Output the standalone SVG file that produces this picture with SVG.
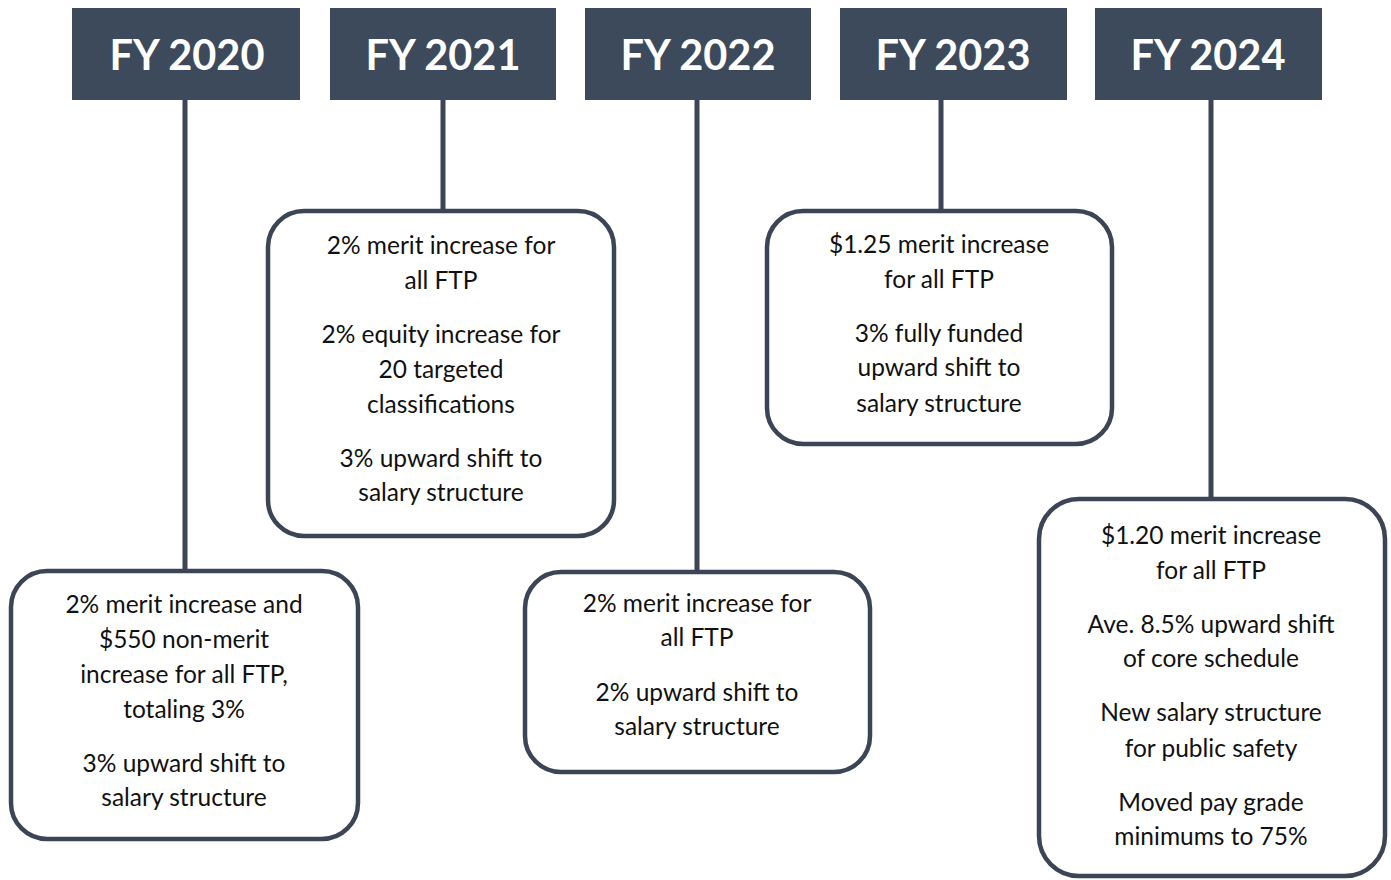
<svg xmlns="http://www.w3.org/2000/svg" width="1391" height="880" viewBox="0 0 1391 880">
<style>
.hdr{fill:#3d4a5c}
.hdrt{font-family:Lato,"Open Sans",sans-serif;font-weight:bold;font-size:41.5px;fill:#ffffff;text-anchor:middle}
.box{fill:#ffffff;stroke:#3b4556;stroke-width:4.5}
.t{font-family:Lato,"Open Sans",sans-serif;font-size:24.5px;fill:#111111;text-anchor:middle}
.ln{stroke:#3b4556;stroke-width:5;fill:none}
</style>
<rect width="1391" height="880" fill="#ffffff"/>
<g id="connectors">
<line class="ln" x1="185" y1="100" x2="185" y2="571"/>
<line class="ln" x1="443" y1="100" x2="443" y2="211"/>
<line class="ln" x1="697" y1="100" x2="697" y2="572"/>
<line class="ln" x1="941" y1="100" x2="941" y2="211"/>
<line class="ln" x1="1211" y1="100" x2="1211" y2="499"/>
</g>
<g id="h2020"><rect class="hdr" x="72" y="8" width="228" height="92"/><text class="hdrt" x="187" y="70">FY 2020</text></g>
<g id="h2021"><rect class="hdr" x="330" y="8" width="226" height="92"/><text class="hdrt" x="443" y="70">FY 2021</text></g>
<g id="h2022"><rect class="hdr" x="585" y="8" width="226" height="92"/><text class="hdrt" x="698" y="70">FY 2022</text></g>
<g id="h2023"><rect class="hdr" x="840" y="8" width="227" height="92"/><text class="hdrt" x="953" y="70">FY 2023</text></g>
<g id="h2024"><rect class="hdr" x="1095" y="8" width="227" height="92"/><text class="hdrt" x="1208" y="70">FY 2024</text></g>
<g id="b2020"><rect class="box" x="11" y="571" width="347" height="268" rx="36"/>
<text class="t" x="184"><tspan x="184" y="613">2% merit increase and</tspan><tspan x="184" y="648">$550 non-merit</tspan><tspan x="184" y="683">increase for all FTP,</tspan><tspan x="184" y="718">totaling 3%</tspan><tspan x="184" y="772">3% upward shift to</tspan><tspan x="184" y="806">salary structure</tspan></text></g>
<g id="b2021"><rect class="box" x="268" y="211" width="346" height="325" rx="36"/>
<text class="t" x="441"><tspan x="441" y="254">2% merit increase for</tspan><tspan x="441" y="289">all FTP</tspan><tspan x="441" y="343">2% equity increase for</tspan><tspan x="441" y="378">20 targeted</tspan><tspan x="441" y="413">classifications</tspan><tspan x="441" y="467">3% upward shift to</tspan><tspan x="441" y="501">salary structure</tspan></text></g>
<g id="b2022"><rect class="box" x="525" y="572" width="345" height="200" rx="36"/>
<text class="t" x="697"><tspan x="697" y="612">2% merit increase for</tspan><tspan x="697" y="646">all FTP</tspan><tspan x="697" y="701">2% upward shift to</tspan><tspan x="697" y="735">salary structure</tspan></text></g>
<g id="b2023"><rect class="box" x="767" y="211" width="345" height="233" rx="36"/>
<text class="t" x="939"><tspan x="939" y="253">$1.25 merit increase</tspan><tspan x="939" y="288">for all FTP</tspan><tspan x="939" y="342">3% fully funded</tspan><tspan x="939" y="376">upward shift to</tspan><tspan x="939" y="412">salary structure</tspan></text></g>
<g id="b2024"><rect class="box" x="1039" y="499" width="346" height="377" rx="40"/>
<text class="t" x="1211"><tspan x="1211" y="544">$1.20 merit increase</tspan><tspan x="1211" y="579">for all FTP</tspan><tspan x="1211" y="633">Ave. 8.5% upward shift</tspan><tspan x="1211" y="667">of core schedule</tspan><tspan x="1211" y="721">New salary structure</tspan><tspan x="1211" y="757">for public safety</tspan><tspan x="1211" y="811">Moved pay grade</tspan><tspan x="1211" y="845">minimums to 75%</tspan></text></g>
</svg>
